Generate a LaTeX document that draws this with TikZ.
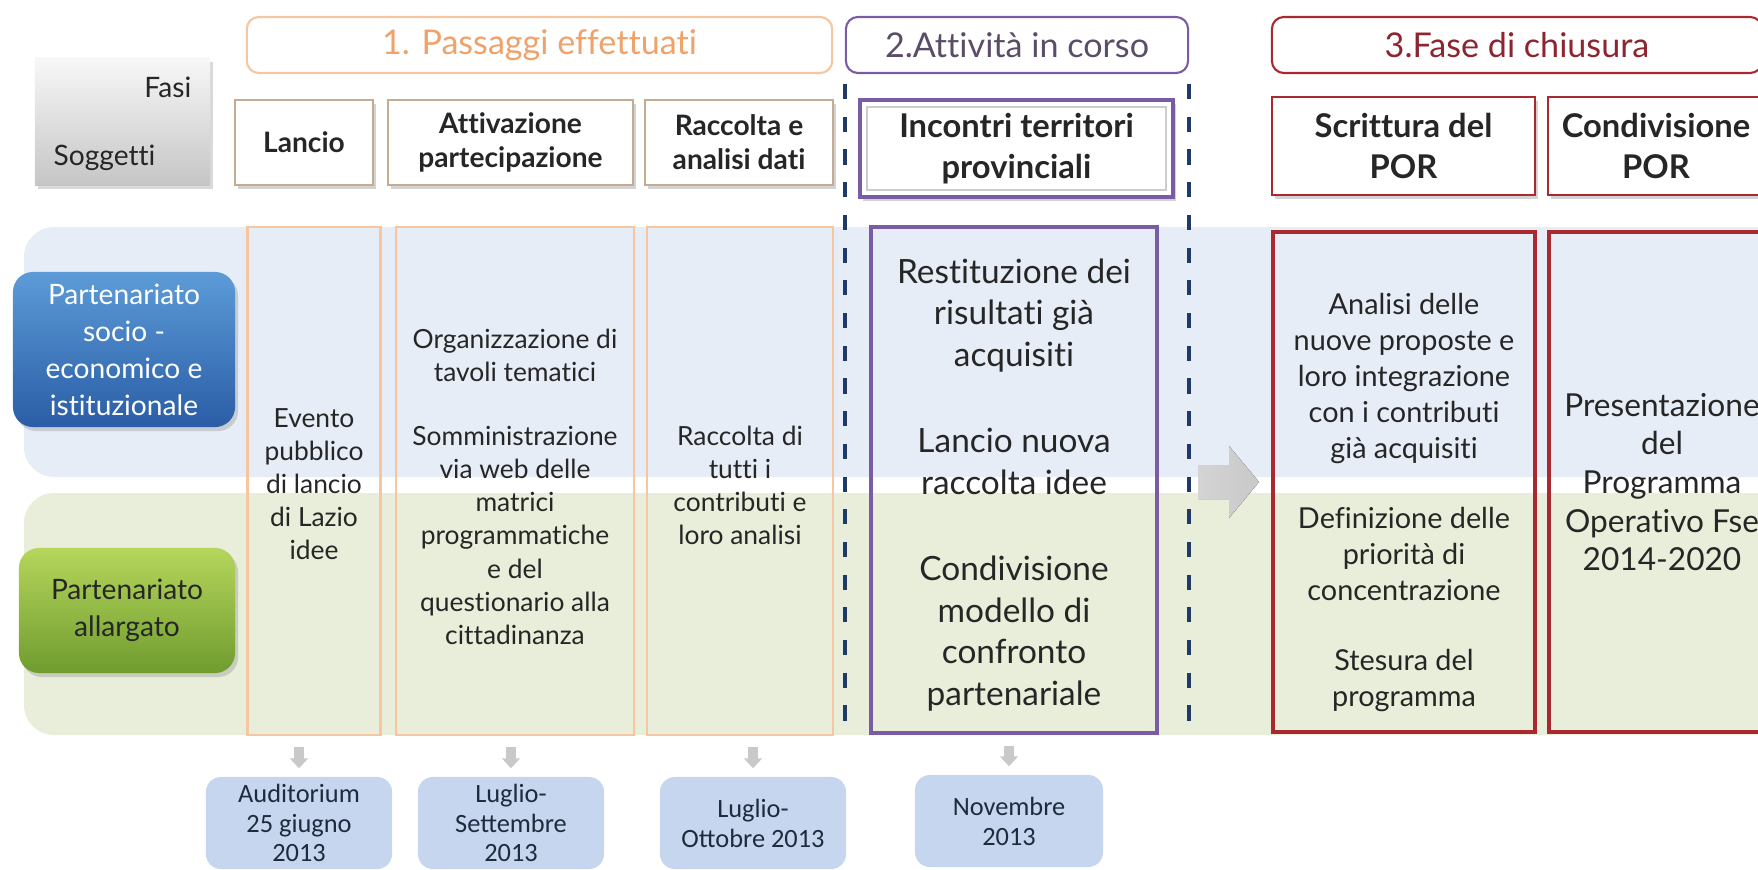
\documentclass[tikz,border=0pt]{standalone}
\usepackage{fontspec}
\setmainfont{Lato}[Ligatures=NoCommon]
\newfontfamily\datefont{Carlito}
\usetikzlibrary{arrows.meta,shadows}

\definecolor{bandblue}{HTML}{E7EDF6}
\definecolor{bandgreen}{HTML}{E8EED9}
\definecolor{orangeln}{HTML}{F5C6A0}
\definecolor{orangetx}{HTML}{EFA26A}
\definecolor{purpleln}{HTML}{7A5CA5}
\definecolor{purpletx}{HTML}{5A4D68}
\definecolor{redln}{HTML}{A82A30}
\definecolor{redtx}{HTML}{8C2530}
\definecolor{subln}{HTML}{C4AC94}
\definecolor{dashln}{HTML}{1F3A68}
\definecolor{datefill}{HTML}{C6D6EE}
\definecolor{datetx}{HTML}{1E2B3C}
\definecolor{arrowgray}{HTML}{C9C9C9}
\definecolor{bodytx}{HTML}{262626}
\definecolor{socioTop}{HTML}{5C9BD8}
\definecolor{socioBot}{HTML}{2A5DA6}
\definecolor{allargTop}{HTML}{B6D65C}
\definecolor{allargBot}{HTML}{6F9C2F}

\begin{document}
\begin{tikzpicture}[x=0.01cm,y=-0.01cm,
  header/.style={draw, rounded corners=0.12cm, line width=0.6pt, minimum height=0.56cm,
    inner sep=0pt, font=\fontsize{9.7}{11}\selectfont},
  subbox/.style={draw=subln, fill=white, line width=0.4pt, inner sep=0pt, align=center,
    drop shadow={shadow xshift=0.03cm, shadow yshift=-0.04cm, opacity=0.35},
    text=bodytx, font=\bfseries\fontsize{8}{9.6}\selectfont},
  column/.style={draw, inner sep=0pt},
  coltext/.style={align=center, inner sep=0pt, text=bodytx, font=\fontsize{7.5}{9.4}\selectfont},
  rowlabel/.style={rounded corners=0.2cm, inner sep=0pt, align=center,
    drop shadow={shadow xshift=0.03cm, shadow yshift=-0.04cm, opacity=0.3},
    font=\fontsize{8}{10.5}\selectfont},
  datebox/.style={fill=datefill, rounded corners=0.15cm, minimum width=1.86cm, minimum height=0.92cm,
    inner sep=0pt, align=center, text=datetx, font=\datefont\fontsize{7.5}{8.5}\selectfont},
  down/.style={arrowgray, line width=2.6pt, -{Triangle[width=0.18cm,length=0.1cm]},
    shorten <=0.11cm, shorten >=0.08cm},
  sepline/.style={dashln, line width=1.1pt, dash pattern=on 4.3pt off 5pt}]

\useasboundingbox (0,0) rectangle (1758,870);

\fill[bandblue, rounded corners=0.3cm] (24,227) rectangle (1800,477);
\fill[bandgreen, rounded corners=0.3cm] (24,493) rectangle (1800,735);

\node[top color=gray!6, bottom color=gray!45, minimum width=1.75cm, minimum height=1.27cm,
  drop shadow={shadow xshift=0.03cm, shadow yshift=-0.04cm, opacity=0.3}] (fasi) at (122.5,121.5) {};
\node[anchor=east, inner sep=0pt, text=bodytx, font=\fontsize{8}{10}\selectfont] (fasiTxt) at (192,87) {Fasi};
\node[anchor=west, inner sep=0pt, text=bodytx, font=\fontsize{8}{10}\selectfont] (soggTxt) at (53,158) {Soggetti};

\node[header, draw=orangeln, text=orangetx, minimum width=5.85cm] (hdrA) at (539.5,45) {1. Passaggi effettuati};
\node[header, draw=purpleln, text=purpletx, minimum width=3.42cm] (hdrB) at (1017,45) {2.Attività in corso};
\node[header, draw=redln, text=redtx, minimum width=4.9cm] (hdrC) at (1517,45) {3.Fase di chiusura};

\node[subbox, minimum width=1.38cm, minimum height=0.85cm] (subLancio) at (304,142.5) {Lancio};
\node[subbox, minimum width=2.45cm, minimum height=0.85cm] (subAttiv) at (510.5,142.5) {Attivazione\\partecipazione};
\node[subbox, minimum width=1.88cm, minimum height=0.85cm] (subRacc) at (739,142.5) {Raccolta e\\analisi dati};
\node[subbox, draw=purpleln, line width=1pt, minimum width=3.13cm, minimum height=0.97cm,
  font=\bfseries\fontsize{9.3}{11.5}\selectfont] (subIncontri) at (1016.5,148.5) {Incontri territori\\provinciali};
\draw[gray!40, line width=0.5pt] ([shift={(0.09cm,-0.09cm)}]subIncontri.north west)
  rectangle ([shift={(-0.09cm,0.09cm)}]subIncontri.south east);
\node[subbox, draw=redln, minimum width=2.63cm, minimum height=0.98cm,
  font=\bfseries\fontsize{9.3}{11.5}\selectfont] (subScritt) at (1403.5,146) {Scrittura del\\POR};
\node[subbox, draw=redln, minimum width=2.16cm, minimum height=0.98cm,
  font=\bfseries\fontsize{9.3}{11.5}\selectfont] (subCond) at (1656,146) {Condivisione\\POR};

\node[column, draw=orangeln, line width=0.6pt, minimum width=1.33cm, minimum height=5.08cm] (colLancio) at (314,481) {};
\node[column, draw=orangeln, line width=0.6pt, minimum width=2.37cm, minimum height=5.08cm] (colAttiv) at (515,481) {};
\node[column, draw=orangeln, line width=0.6pt, minimum width=1.86cm, minimum height=5.08cm] (colRacc) at (740,481) {};
\node[column, draw=purpleln, line width=1pt, minimum width=2.86cm, minimum height=5.06cm] (colIncontri) at (1014,480) {};
\node[column, draw=redln, line width=1pt, minimum width=2.62cm, minimum height=5.0cm] (colScritt) at (1404,482) {};
\node[column, draw=redln, line width=1pt, minimum width=2.26cm, minimum height=5.0cm] (colPres) at (1662,482) {};

\node[coltext] (txtLancio) at ([yshift=-0.03cm]colLancio.center) {Evento\\pubblico\\di lancio\\di Lazio\\idee};
\node[coltext] (txtAttiv) at ([yshift=-0.055cm]colAttiv.center) {Organizzazione di\\tavoli tematici\\[9pt]Somministrazione\\via web delle\\matrici\\programmatiche\\e del\\questionario alla\\cittadinanza};
\node[coltext] (txtRacc) at ([yshift=-0.04cm]colRacc.center) {Raccolta di\\tutti i\\contributi e\\loro analisi};
\node[coltext, font=\fontsize{9.5}{11.9}\selectfont] (txtIncontri) at ([yshift=-0.05cm]colIncontri.center) {Restituzione dei\\risultati già\\acquisiti\\[12.5pt]Lancio nuova\\raccolta idee\\[12.5pt]Condivisione\\modello di\\confronto\\partenariale};
\node[coltext, font=\fontsize{8.2}{10.2}\selectfont] (txtScritt) at ([yshift=-0.205cm]colScritt.center) {Analisi delle\\nuove proposte e\\loro integrazione\\con i contributi\\già acquisiti\\[9.7pt]Definizione delle\\priorità di\\concentrazione\\[9.7pt]Stesura del\\programma};
\node[coltext, font=\fontsize{9}{11}\selectfont] (txtPres) at (colPres.center) {Presentazione\\del\\Programma\\Operativo Fse\\2014-2020};

\node[rowlabel, top color=socioTop, bottom color=socioBot, text=white,
  minimum width=2.22cm, minimum height=1.55cm] (rowSocio) at (124,349.5) {Partenariato\\socio -\\economico e\\istituzionale};
\node[rowlabel, top color=allargTop, bottom color=allargBot, text=bodytx,
  minimum width=2.16cm, minimum height=1.25cm] (rowAllarg) at (127,610.5) {Partenariato\\allargato};

\draw[sepline] ([yshift=-0.1cm]hdrB.south west) -- (hdrB.south west |- colLancio.south);
\draw[sepline] ([yshift=-0.1cm]hdrB.south east) -- (hdrB.south east |- colLancio.south);

\fill[left color=arrowgray!80, right color=arrowgray] (1198,465) -- (1229,465) -- (1229,446)
  -- (1259,482) -- (1229,518) -- (1229,499) -- (1198,499) -- cycle;

\node[datebox] (dateLancio) at (299,823) {Auditorium\\25 giugno\\2013};
\node[datebox] (dateAttiv) at (511,823) {Luglio-\\Settembre\\2013};
\node[datebox] (dateRacc) at (753,823) {Luglio-\\Ottobre 2013};
\node[datebox, minimum width=1.88cm] (dateIncontri) at (1009,821) {Novembre\\2013};

\draw[down] (dateLancio.north |- colLancio.south) -- (dateLancio.north);
\draw[down] (dateAttiv.north |- colAttiv.south) -- (dateAttiv.north);
\draw[down] (dateRacc.north |- colRacc.south) -- (dateRacc.north);
\draw[down] (dateIncontri.north |- colIncontri.south) -- (dateIncontri.north);

\end{tikzpicture}
\end{document}
